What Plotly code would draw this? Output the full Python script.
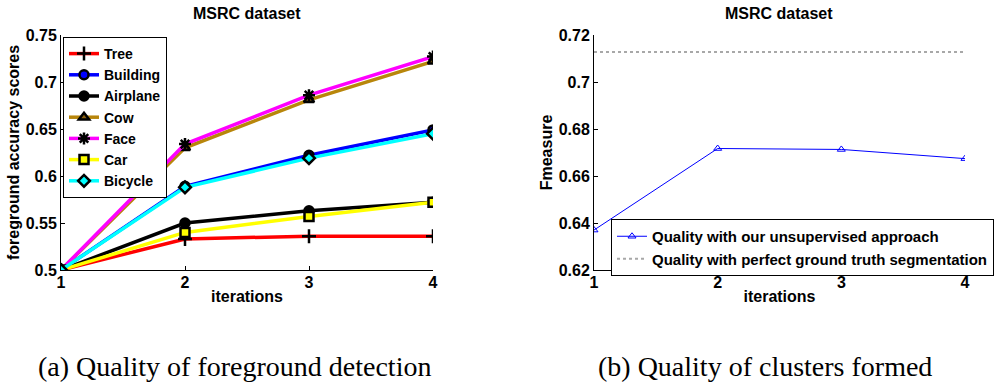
import plotly.graph_objects as go

iterations = [1, 2, 3, 4]
tree = [0.5, 0.533, 0.536, 0.536]
building = [0.5, 0.589, 0.622, 0.649]
airplane = [0.5, 0.550, 0.563, 0.572]
cow = [0.5, 0.630, 0.681, 0.722]
face = [0.5, 0.634, 0.686, 0.727]
car = [0.5, 0.540, 0.557, 0.572]
bicycle = [0.5, 0.588, 0.619, 0.645]

fmeasure = [0.637, 0.6717, 0.6713, 0.6674]
ground_truth = [0.7128, 0.7128, 0.7128, 0.7128]

x_ticks = [1, 2, 3, 4]
y1_ticks = [0.5, 0.55, 0.6, 0.65, 0.7, 0.75]
y1_labels = ["0.5", "0.55", "0.6", "0.65", "0.7", "0.75"]
y2_ticks = [0.62, 0.64, 0.66, 0.68, 0.7, 0.72]
y2_labels = ["0.62", "0.64", "0.66", "0.68", "0.7", "0.72"]

W, H = 1003, 383
def px_x(p): return p / W
def px_y(p): return 1 - p / H

fig = go.Figure()

series = [
    ("Tree", tree, "#ff0000", "cross-thin", "#000000"),
    ("Building", building, "#0000ff", "circle", "#0000ff"),
    ("Airplane", airplane, "#000000", "circle", "#000000"),
    ("Cow", cow, "#b8860b", "triangle-up", "#8a6010"),
    ("Face", face, "#ff00ff", "asterisk", "#000000"),
    ("Car", car, "#ffff00", "square", "#ffff00"),
    ("Bicycle", bicycle, "#00ffff", "diamond", "#00ffff"),
]
for name, vals, col, sym, face_col in series:
    fig.add_trace(go.Scatter(
        x=iterations, y=vals, name="<b>" + name + "</b>", mode="lines+markers",
        line=dict(color=col, width=3.5),
        marker=dict(symbol=sym, size=9 if sym not in ("cross-thin", "asterisk") else 10,
                    color=face_col, line=dict(color="black", width=2.5)),
        xaxis="x", yaxis="y", legend="legend",
    ))

fig.add_trace(go.Scatter(
    x=iterations, y=fmeasure, name="<b>Quality with our unsupervised approach</b>",
    mode="lines+markers", line=dict(color="#0000ff", width=1),
    marker=dict(symbol="triangle-up-open", size=7, color="#0000ff", line=dict(width=1)),
    xaxis="x2", yaxis="y2", legend="legend2",
))
fig.add_trace(go.Scatter(
    x=iterations, y=ground_truth, name="<b>Quality with perfect ground truth segmentation</b>",
    mode="lines", line=dict(color="#a8a8a8", width=2, dash="dot"),
    xaxis="x2", yaxis="y2", legend="legend2",
))

FONT = "Liberation Sans"
tickfont = dict(family=FONT, size=16, color="black")
titlefont = dict(family=FONT, size=16, color="black")
axis_common = dict(showline=True, linecolor="black", linewidth=1, ticks="inside",
                   ticklen=4, tickcolor="black", showgrid=False, zeroline=False,
                   tickfont=tickfont, mirror=False, automargin=False)

def b(lst): return ["<b>" + s + "</b>" for s in lst]

fig.update_layout(
    width=W, height=H, margin=dict(l=0, r=0, t=0, b=0, autoexpand=False),
    paper_bgcolor="white", plot_bgcolor="white",
    xaxis=dict(domain=[px_x(61), px_x(433)], range=[1, 4], tickvals=x_ticks,
               ticktext=b([str(v) for v in x_ticks]), ticklabelstandoff=-2,
               anchor="y", title=dict(text="<b>iterations</b>", font=titlefont, standoff=0), **axis_common),
    yaxis=dict(domain=[px_y(270), px_y(35)], range=[0.5, 0.75],
               tickvals=y1_ticks, ticktext=b(y1_labels),
               anchor="x", title=dict(text="<b>foreground accuracy scores</b>", font=titlefont, standoff=2),
               **axis_common),
    xaxis2=dict(domain=[px_x(594), px_x(965)], range=[1, 4], tickvals=x_ticks,
                ticktext=b([str(v) for v in x_ticks]), ticklabelstandoff=-2,
                anchor="y2", title=dict(text="<b>iterations</b>", font=titlefont, standoff=0), **axis_common),
    yaxis2=dict(domain=[px_y(270), px_y(35)], range=[0.62, 0.72],
                tickvals=y2_ticks, ticktext=b(y2_labels),
                anchor="x2", title=dict(text="<b>Fmeasure</b>", font=titlefont, standoff=2),
                **axis_common),
    legend=dict(x=px_x(63), y=px_y(37), xanchor="left", yanchor="top",
                bordercolor="black", borderwidth=1, bgcolor="white",
                font=dict(family=FONT, size=14, color="black"),
                tracegroupgap=0, itemwidth=30),
    legend2=dict(x=px_x(611), y=px_y(219), xanchor="left", yanchor="top",
                 bordercolor="black", borderwidth=1, bgcolor="white",
                 font=dict(family=FONT, size=15, color="black"),
                 itemwidth=30),
    showlegend=True,
)

annotations = [
    dict(text="<b>MSRC dataset</b>", x=px_x(247), y=px_y(13), xref="paper", yref="paper",
         xanchor="center", yanchor="middle",
         showarrow=False, font=dict(family=FONT, size=16, color="black")),
    dict(text="<b>MSRC dataset</b>", x=px_x(779), y=px_y(13), xref="paper", yref="paper",
         xanchor="center", yanchor="middle",
         showarrow=False, font=dict(family=FONT, size=16, color="black")),
    dict(text="(a) Quality of foreground detection", x=px_x(234), y=px_y(366), xref="paper", yref="paper",
         xanchor="center", yanchor="middle",
         showarrow=False, font=dict(family="Liberation Serif", size=28, color="black")),
    dict(text="(b) Quality of clusters formed", x=px_x(765), y=px_y(366), xref="paper", yref="paper",
         xanchor="center", yanchor="middle",
         showarrow=False, font=dict(family="Liberation Serif", size=28, color="black")),
]
fig.update_layout(annotations=annotations)

fig.write_html("out.html", config={"displayModeBar": False},
               post_script="document.body.style.margin='0';")
